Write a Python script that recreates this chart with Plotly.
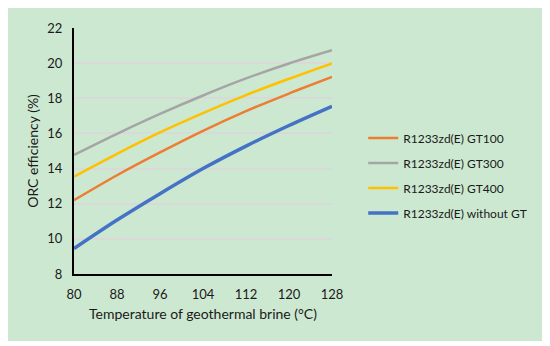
import plotly.graph_objects as go

temperature = [80, 88, 96, 104, 112, 120, 128]
gt100 = [12.20, 13.62, 14.92, 16.15, 17.27, 18.27, 19.21]
gt300 = [14.78, 15.98, 17.11, 18.16, 19.13, 19.98, 20.73]
gt400 = [13.54, 14.84, 16.06, 17.16, 18.18, 19.11, 19.99]
without_gt = [9.45, 11.07, 12.57, 14.00, 15.28, 16.45, 17.54]

x_ticks = [80, 88, 96, 104, 112, 120, 128]
y_ticks = [8, 10, 12, 14, 16, 18, 20, 22]

series = [
    ("R1233zd(E) GT100", gt100, "#ED7D31", 2.5),
    ("R1233zd(E) GT300", gt300, "#A5A5A5", 2.5),
    ("R1233zd(E) GT400", gt400, "#FFC000", 2.5),
    ("R1233zd(E) without GT", without_gt, "#4472C4", 3.5),
]

FONT = "Lato"
GREEN = "#CDE8D1"

fig = go.Figure()
for i, (name, vals, color, w) in enumerate(series):
    fig.add_trace(go.Scatter(
        x=temperature, y=vals, mode="lines", name=name,
        line=dict(color=color, width=w, shape="spline", smoothing=0.8),
        legendgroup=f"g{i}",
    ))

# page body has an 8px default margin; figure spans the green panel
W, H = 536, 333
L, R, T, B = 66, 206, 15, 67

fig.update_layout(
    width=W, height=H,
    margin=dict(l=L, r=R, t=T, b=B, pad=0),
    paper_bgcolor=GREEN,
    plot_bgcolor=GREEN,
    font=dict(family=FONT, size=13, color="#1a1a1a"),
    showlegend=True,
    legend=dict(
        x=1.121, xanchor="left", y=0.40, yanchor="middle",
        bgcolor="rgba(0,0,0,0)", font=dict(family=FONT, size=12, color="#1a1a1a"),
        traceorder="grouped", tracegroupgap=6,
    ),
    xaxis=dict(
        range=[80, 128], tickvals=x_ticks, ticktext=[str(v) for v in x_ticks],
        showgrid=False, zeroline=False,
        showline=True, linecolor="black", linewidth=2,
        ticks="outside", ticklen=7, tickcolor="rgba(0,0,0,0)",
        title=dict(text="Temperature of geothermal brine (°C)", font=dict(family=FONT, size=14), standoff=9),
        tickfont=dict(family=FONT, size=13),
    ),
    yaxis=dict(
        range=[8, 22], tickvals=y_ticks,
        showgrid=True, gridcolor="#D9D9D9", gridwidth=1.5, zeroline=False,
        showline=True, linecolor="black", linewidth=2,
        ticks="outside", ticklen=7, tickcolor="rgba(0,0,0,0)",
        title=dict(text="ORC efficiency (%)", font=dict(family=FONT, size=14), standoff=5),
        tickfont=dict(family=FONT, size=13),
    ),
)

fig.write_html("out.html")
